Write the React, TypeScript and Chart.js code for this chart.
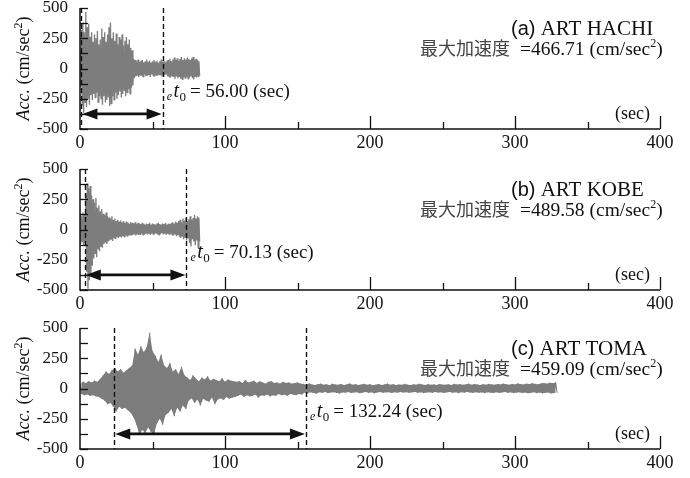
import React, { useEffect, useRef } from 'react';
import { Chart, registerables } from 'chart.js';

Chart.register(...registerables);

// ---- data ----
const xTickValues = [0, 100, 200, 300, 400];
const yTickValues = [-500, -250, 0, 250, 500];
const xMinorStep = 50;
const yMinorStep = 125;

// HACHI peaks (positive / negative swing per cycle), 1 s step, t = 0..82
const hachiStep = 1;
const hachiUpper = [
  150, 320, 380, 300, 466, 340, 370, 260, 300, 220,
  280, 250, 310, 200, 240, 330, 260, 300, 220, 280,
  340, 380, 250, 300, 230, 290, 200, 260, 240, 280,
  190, 230, 260, 200, 240, 170, 150, 80, 70, 60,
  75, 55, 65, 70, 50, 60, 75, 55, 65, 50,
  60, 70, 55, 65, 50, 60, 75, 55, 60, 50,
  65, 70, 80, 60, 75, 90, 70, 85, 65, 80,
  95, 70, 85, 75, 90, 80, 70, 85, 95, 75,
  80, 70, 60,
];
const hachiLower = [
  -150, -300, -365, -280, -320, -250, -300, -220, -260, -210,
  -240, -200, -280, -230, -250, -300, -230, -280, -260, -240,
  -310, -290, -230, -260, -200, -250, -220, -190, -240, -210,
  -180, -230, -200, -170, -210, -160, -140, -80, -65, -60,
  -70, -55, -60, -70, -50, -65, -60, -55, -70, -50,
  -60, -65, -55, -60, -50, -55, -65, -60, -55, -50,
  -65, -70, -75, -60, -70, -85, -65, -80, -70, -85,
  -90, -75, -80, -70, -85, -75, -65, -80, -90, -70,
  -75, -65, -60,
];

// KOBE peaks, 1 s step, t = 0..82
const kobeStep = 1;
const kobeUpper = [
  130, 110, 140, 120, 300, 380, 340, 360, 280, 250,
  220, 260, 180, 200, 150, 170, 130, 120, 140, 110,
  100, 90, 110, 80, 90, 70, 80, 65, 75, 60,
  70, 55, 65, 60, 50, 60, 55, 50, 60, 45,
  55, 50, 45, 55, 50, 40, 50, 45, 55, 40,
  50, 45, 40, 50, 55, 45, 40, 50, 45, 55,
  40, 50, 45, 55, 60, 50, 65, 55, 70, 80,
  60, 90, 75, 100, 70, 85, 110, 80, 95, 120,
  90, 110, 100,
];
const kobeLower = [
  -120, -100, -130, -110, -350, -490, -420, -380, -300, -240,
  -200, -230, -160, -180, -140, -150, -120, -110, -120, -100,
  -90, -80, -95, -70, -80, -65, -70, -60, -65, -55,
  -60, -50, -55, -50, -45, -50, -45, -40, -50, -40,
  -45, -40, -35, -45, -40, -35, -40, -35, -45, -35,
  -40, -35, -30, -40, -45, -35, -30, -40, -35, -45,
  -35, -40, -35, -45, -50, -40, -55, -45, -60, -70,
  -55, -80, -65, -90, -70, -110, -140, -80, -100, -130,
  -90, -150, -100,
];

// TOMA peaks, 2 s step, t = 0..328
const tomaStep = 2;
const tomaUpper = [
  40, 55, 45, 60, 50, 65, 55, 80,
  110, 140, 120, 150,
  170, 140, 160, 130, 150, 170, 190,
  330, 280, 350, 300, 340, 460, 310,
  270, 220, 280, 190,
  170, 210, 140, 160, 120, 180, 110,
  90, 70, 110, 80, 60, 90, 75, 100, 65, 80, 70, 60, 85, 55, 75, 65, 60,
  55, 60, 45, 70, 50, 55, 65, 45, 60, 50, 40, 55, 60, 45, 50, 40, 55, 45, 50, 40, 45, 50, 40,
  38, 30, 42, 33, 28, 36, 40, 31, 35, 27,
  39, 33, 30, 37, 29, 34, 41, 30, 36, 28,
  33, 38, 30, 35, 27, 32, 37, 29, 34, 40,
  31, 36, 28, 33, 30, 38, 32, 27, 35, 30,
  39, 33, 29, 36, 31, 34, 28, 37, 32, 30,
  35, 29, 38, 33, 36, 30, 34, 40, 31, 37,
  33, 29, 36, 32, 38, 34, 30, 37, 33, 40,
  35, 31, 38, 34, 42, 36, 33, 40, 37, 44,
  38, 35, 42, 46, 40, 48, 44, 50,
];
const tomaLower = [
  -45, -55, -50, -60, -55, -65, -70, -85,
  -100, -130, -120, -150,
  -190, -150, -170, -160, -180, -200, -240,
  -300, -380, -340, -370, -320, -360, -380,
  -290, -250, -300, -220,
  -200, -170, -230, -160, -190, -140, -170,
  -100, -80, -120, -90, -140, -85, -100, -110, -75, -130, -90, -80, -95, -70, -85, -75, -70,
  -60, -50, -70, -55, -65, -60, -50, -75, -55, -60, -50, -65, -55, -60, -45, -55, -50, -60, -45, -50, -55, -45, -50,
  -34, -40, -30, -37, -42, -31, -36, -29, -38, -33,
  -30, -36, -41, -32, -35, -28, -37, -33, -30, -39,
  -34, -29, -36, -31, -40, -33, -28, -35, -32, -30,
  -37, -31, -35, -28, -34, -30, -36, -32, -29, -35,
  -31, -38, -33, -30, -36, -28, -34, -31, -37, -32,
  -29, -35, -31, -38, -30, -34, -28, -33, -36, -30,
  -35, -32, -38, -30, -34, -37, -31, -36, -33, -29,
  -36, -32, -38, -34, -30, -37, -33, -39, -35, -31,
  -38, -34, -40, -36, -33, -41, -37, -35,
];

const panelLetters = ['(a)', '(b)', '(c)'];
const panelNames = ['ART HACHI', 'ART KOBE', 'ART TOMA'];
const peakAcc = ['466.71', '489.58', '459.09'];
const durations = ['56.00', '70.13', '132.24'];
const durStart = [1.0, 3.3, 23.6];
const durEnd = [57.0, 73.4, 155.8];
const arrowLevel = -375;
const labelLevel = -180;

const series = [
  { upper: hachiUpper, lower: hachiLower, step: hachiStep },
  { upper: kobeUpper, lower: kobeLower, step: kobeStep },
  { upper: tomaUpper, lower: tomaLower, step: tomaStep },
];

// ---- layout / style ----
const canvasTop = [0, 160, 320];
const canvasH = [160, 160, 158];
const padTop = [8, 9, 8];
const padBottom = [9, 8, 7];
const traceWidth = [1.3, 1.3, 1.1];
const solidBand = [false, false, true];

const WAVE = '#7d7d7d';
const SERIF = "'Liberation Serif', 'Times New Roman', serif";
const SANS = "'Liberation Sans', Arial, sans-serif";
const CJK = "'Noto Sans CJK JP', 'Noto Sans CJK SC', sans-serif";

const decoPlugin = {
  id: 'deco',
  afterDatasetsDraw(chart: any, _args: any, opts: any) {
    const { ctx, chartArea: a, scales } = chart;
    const x = scales.x;
    const y = scales.y;
    const i = opts.index;
    ctx.save();
    ctx.strokeStyle = '#111';
    ctx.fillStyle = '#111';

    // axes
    ctx.lineWidth = 1.5;
    ctx.beginPath();
    ctx.moveTo(a.left, a.top);
    ctx.lineTo(a.left, a.bottom);
    ctx.lineTo(a.right, a.bottom);
    ctx.stroke();

    // y ticks (inward)
    ctx.lineWidth = 1.3;
    for (let v = yTickValues[0]; v <= yTickValues[yTickValues.length - 1]; v += yMinorStep) {
      const py = Math.round(y.getPixelForValue(v)) + 0.5;
      ctx.beginPath();
      ctx.moveTo(a.left, py);
      ctx.lineTo(a.left + 8, py);
      ctx.stroke();
    }
    // x ticks (inward)
    for (let v = xMinorStep; v <= xTickValues[xTickValues.length - 1]; v += xMinorStep) {
      const px = Math.round(x.getPixelForValue(v)) + 0.5;
      const len = v % 100 === 0 ? 13 : 7;
      ctx.beginPath();
      ctx.moveTo(px, a.bottom);
      ctx.lineTo(px, a.bottom - len);
      ctx.stroke();
    }

    // dashed lines
    const x1 = x.getPixelForValue(durStart[i]);
    const x2 = x.getPixelForValue(durEnd[i]);
    ctx.lineWidth = 1.4;
    ctx.setLineDash([5, 3]);
    [x1, x2].forEach((px) => {
      ctx.beginPath();
      ctx.moveTo(Math.round(px) + 0.5, a.top);
      ctx.lineTo(Math.round(px) + 0.5, a.bottom);
      ctx.stroke();
    });
    ctx.setLineDash([]);

    // double arrow
    const ay = y.getPixelForValue(arrowLevel);
    const hl = 15;
    const hw = 5.5;
    ctx.lineWidth = 2.6;
    ctx.beginPath();
    ctx.moveTo(x1 + hl - 2, ay);
    ctx.lineTo(x2 - hl + 2, ay);
    ctx.stroke();
    ctx.beginPath();
    ctx.moveTo(x1 + 1, ay);
    ctx.lineTo(x1 + 1 + hl, ay - hw);
    ctx.lineTo(x1 + 1 + hl, ay + hw);
    ctx.closePath();
    ctx.fill();
    ctx.beginPath();
    ctx.moveTo(x2 - 1, ay);
    ctx.lineTo(x2 - 1 - hl, ay - hw);
    ctx.lineTo(x2 - 1 - hl, ay + hw);
    ctx.closePath();
    ctx.fill();

    // duration label
    ctx.textBaseline = 'alphabetic';
    ctx.textAlign = 'left';
    const cy = y.getPixelForValue(labelLevel);
    const base = cy + 6.5;
    let tx = x2 + 4;
    ctx.font = `italic 12px ${SERIF}`;
    ctx.fillText('e', tx, base + 3);
    tx += ctx.measureText('e').width + 1.5;
    ctx.font = `italic 20px ${SERIF}`;
    ctx.fillText('t', tx, base);
    tx += ctx.measureText('t').width + 0.5;
    ctx.font = `13px ${SERIF}`;
    ctx.fillText('0', tx, base + 4);
    tx += ctx.measureText('0').width + 4;
    ctx.font = `19px ${SERIF}`;
    ctx.fillText(`= ${durations[i]} (sec)`, tx, base);

    // titles
    const t1 = a.top + 20;
    let hx = a.right - 149;
    ctx.font = `20px ${SANS}`;
    ctx.fillText(panelLetters[i], hx, t1 + 7);
    hx += ctx.measureText(panelLetters[i]).width;
    ctx.font = `21px ${SERIF}`;
    ctx.fillText(' ' + panelNames[i], hx, t1 + 7);

    const t2 = a.top + 40;
    ctx.fillStyle = '#444';
    ctx.font = `18px ${CJK}`;
    ctx.fillText('最大加速度', a.right - 240, t2 + 6.5);
    let lx = a.right - 140;
    ctx.fillStyle = '#111';
    ctx.font = `19.5px ${SERIF}`;
    const s1 = `=${peakAcc[i]} (cm/sec`;
    ctx.fillText(s1, lx, t2 + 6.5);
    lx += ctx.measureText(s1).width;
    ctx.font = `12px ${SERIF}`;
    ctx.fillText('2', lx, t2 - 1);
    lx += ctx.measureText('2').width;
    ctx.font = `19.5px ${SERIF}`;
    ctx.fillText(')', lx, t2 + 6.5);

    // (sec) label
    ctx.textAlign = 'right';
    ctx.font = `18px ${SERIF}`;
    ctx.fillText('(sec)', a.right - 10, a.bottom - 16 + 6);

    // y title
    const midY = (a.top + a.bottom) / 2;
    ctx.save();
    ctx.translate(23, midY);
    ctx.rotate(-Math.PI / 2);
    ctx.textAlign = 'left';
    const parts: [string, string, number][] = [
      ['Acc.', `italic 18px ${SERIF}`, 0],
      [' (cm/sec', `18px ${SERIF}`, 0],
      ['2', `12px ${SERIF}`, -7],
      [')', `18px ${SERIF}`, 0],
    ];
    let total = 0;
    parts.forEach(([s, f]) => {
      ctx.font = f;
      total += ctx.measureText(s).width;
    });
    let px = -total / 2;
    parts.forEach(([s, f, dy]) => {
      ctx.font = f;
      ctx.fillText(s, px, 6 + dy);
      px += ctx.measureText(s).width;
    });
    ctx.restore();

    ctx.restore();
  },
};

function Panel({ index }: { index: number }) {
  const ref = useRef<HTMLCanvasElement | null>(null);
  useEffect(() => {
    const s = series[index];
    // oscillating trace: each cycle swings to its positive then its negative peak
    const pts: { x: number; y: number }[] = [];
    s.upper.forEach((v, k) => {
      pts.push({ x: k * s.step, y: v });
      pts.push({ x: k * s.step + s.step / 2, y: s.lower[k] });
    });
    const datasets: any[] = [
      {
        data: pts,
        borderColor: WAVE,
        backgroundColor: WAVE,
        borderWidth: traceWidth[index],
        borderJoinStyle: 'bevel',
        pointRadius: 0,
        tension: 0,
        fill: false,
      },
    ];
    if (solidBand[index]) {
      datasets.push(
        {
          data: s.upper.map((v, k) => ({ x: k * s.step, y: v })),
          borderWidth: 0,
          borderColor: 'rgba(0,0,0,0)',
          backgroundColor: WAVE,
          pointRadius: 0,
          tension: 0,
          fill: '+1',
        },
        {
          data: s.lower.map((v, k) => ({ x: k * s.step + s.step / 2, y: v })),
          borderWidth: 0,
          borderColor: 'rgba(0,0,0,0)',
          backgroundColor: WAVE,
          pointRadius: 0,
          tension: 0,
          fill: false,
        },
      );
    }
    const chart = new Chart(ref.current as HTMLCanvasElement, {
      type: 'line',
      data: { datasets },
      options: {
        animation: false,
        responsive: false,
        maintainAspectRatio: false,
        devicePixelRatio: 1,
        layout: { padding: { left: 0, right: 30, top: padTop[index], bottom: padBottom[index] } },
        plugins: {
          legend: { display: false },
          tooltip: { enabled: false },
          deco: { index },
        } as any,
        scales: {
          x: {
            type: 'linear',
            min: xTickValues[0],
            max: xTickValues[xTickValues.length - 1],
            grid: { display: false, drawTicks: false },
            border: { display: false },
            afterBuildTicks: (sc: any) => {
              sc.ticks = xTickValues.map((v) => ({ value: v }));
            },
            afterFit: (sc: any) => {
              sc.height = 22;
              sc.paddingLeft = 0;
              sc.paddingRight = 0;
            },
            ticks: {
              padding: 3,
              maxRotation: 0,
              autoSkip: false,
              color: '#111',
              font: { family: SERIF, size: 18 },
            },
          },
          y: {
            type: 'linear',
            min: yTickValues[0],
            max: yTickValues[yTickValues.length - 1],
            grid: { display: false, drawTicks: false },
            border: { display: false },
            afterBuildTicks: (sc: any) => {
              sc.ticks = yTickValues.map((v) => ({ value: v }));
            },
            afterFit: (sc: any) => {
              sc.width = 80;
              sc.paddingTop = 0;
              sc.paddingBottom = 0;
            },
            ticks: {
              padding: 12,
              autoSkip: false,
              color: '#111',
              font: { family: SERIF, size: 17 },
              callback: (v: any) => String(v),
            },
          },
        },
      },
      plugins: [decoPlugin],
    } as any);
    return () => chart.destroy();
  }, [index]);
  return (
    <canvas
      ref={ref}
      width={690}
      height={canvasH[index]}
      style={{
        position: 'absolute',
        left: 0,
        top: canvasTop[index],
        width: 690,
        height: canvasH[index],
        display: 'block',
      }}
    />
  );
}

export default function App() {
  return (
    <div
      style={{
        position: 'fixed',
        left: 0,
        top: 0,
        width: 690,
        height: 478,
        background: '#fff',
        overflow: 'hidden',
      }}
    >
      <Panel index={0} />
      <Panel index={1} />
      <Panel index={2} />
    </div>
  );
}
